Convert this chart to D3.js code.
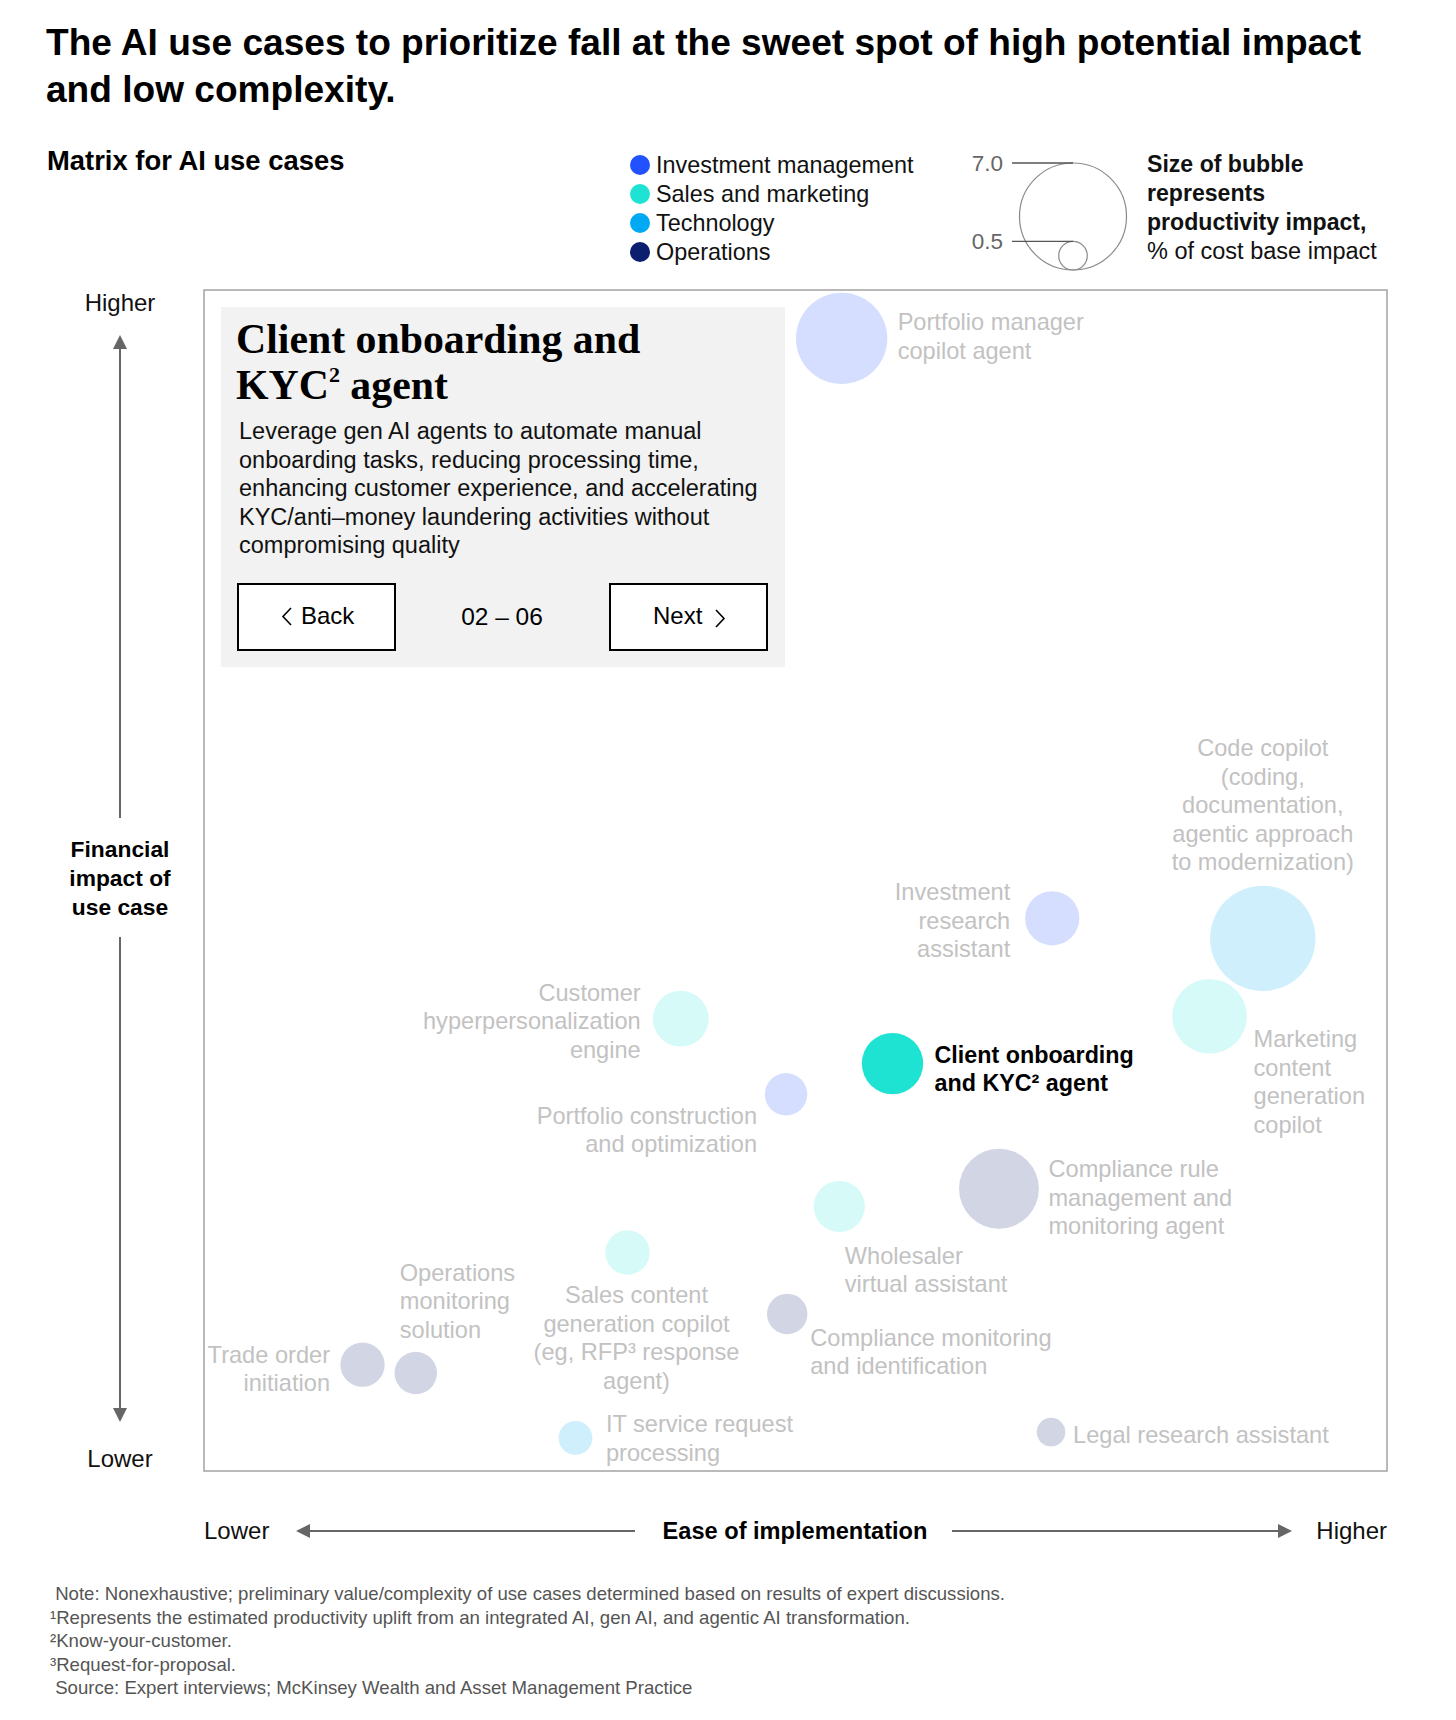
<!DOCTYPE html>
<html>
<head>
<meta charset="utf-8">
<script src="https://cdn.jsdelivr.net/npm/d3@7"></script>
<style>
  html, body { margin: 0; padding: 0; background: #fff; }
  svg { display: block; font-family: "Liberation Sans", Arial, sans-serif; }
</style>
</head>
<body>
<svg id="chart" width="1456" height="1720"></svg>
<script>
// ---------- DATA ----------
const categories = ["Investment management", "Sales and marketing", "Technology", "Operations"];
const categoryColors = ["#2251FF", "#1EE3D3", "#00A9F4", "#0B1F6E"];

const useCases = [
  "Portfolio manager copilot agent",
  "Investment research assistant",
  "Code copilot",
  "Marketing content generation copilot",
  "Customer hyperpersonalization engine",
  "Client onboarding and KYC² agent",
  "Portfolio construction and optimization",
  "Compliance rule management and monitoring agent",
  "Wholesaler virtual assistant",
  "Sales content generation copilot",
  "Compliance monitoring and identification",
  "Trade order initiation",
  "Operations monitoring solution",
  "IT service request processing",
  "Legal research assistant"
];
const useCaseCategory = [0, 0, 2, 1, 1, 1, 0, 3, 1, 1, 3, 3, 3, 2, 3];
// Ease of implementation (0 = lower, 100 = higher)
const ease = [53.9, 71.7, 89.5, 85.0, 40.3, 58.2, 49.2, 67.2, 53.7, 35.8, 49.3, 13.4, 17.9, 31.4, 71.6];
// Financial impact of use case (0 = lower, 100 = higher)
const impact = [95.9, 46.8, 45.1, 38.5, 38.3, 34.5, 31.9, 23.9, 22.4, 18.5, 13.3, 9.0, 8.3, 2.8, 3.3];
// Productivity impact, % of cost base impact (bubble size)
const productivity = [5.1, 1.8, 6.8, 3.4, 1.9, 2.3, 1.1, 3.9, 1.6, 1.2, 1.0, 1.2, 1.1, 0.7, 0.5];
const highlighted = 5;

const labelLines = [
  ["Portfolio manager", "copilot agent"],
  ["Investment", "research", "assistant"],
  ["Code copilot", "(coding,", "documentation,", "agentic approach", "to modernization)"],
  ["Marketing", "content", "generation", "copilot"],
  ["Customer", "hyperpersonalization", "engine"],
  ["Client onboarding", "and KYC² agent"],
  ["Portfolio construction", "and optimization"],
  ["Compliance rule", "management and", "monitoring agent"],
  ["Wholesaler", "virtual assistant"],
  ["Sales content", "generation copilot", "(eg, RFP³ response", "agent)"],
  ["Compliance monitoring", "and identification"],
  ["Trade order", "initiation"],
  ["Operations", "monitoring", "solution"],
  ["IT service request", "processing"],
  ["Legal research assistant"]
];

const sizeLegendValues = [7.0, 0.5];
const sizeLegendLabels = ["7.0", "0.5"];

const detailTitle = ["Client onboarding and", "KYC", "agent"];
const detailBody = [
  "Leverage gen AI agents to automate manual",
  "onboarding tasks, reducing processing time,",
  "enhancing customer experience, and accelerating",
  "KYC/anti–money laundering activities without",
  "compromising quality"
];
const pager = "02 – 06";

const titleLines = [
  "The AI use cases to prioritize fall at the sweet spot of high potential impact",
  "and low complexity."
];
const subtitle = "Matrix for AI use cases";
const sizeLegendText = ["Size of bubble", "represents", "productivity impact,", "% of cost base impact"];
const footnotes = [
  " Note: Nonexhaustive; preliminary value/complexity of use cases determined based on results of expert discussions.",
  "¹Represents the estimated productivity uplift from an integrated AI, gen AI, and agentic AI transformation.",
  "²Know-your-customer.",
  "³Request-for-proposal.",
  " Source: Expert interviews; McKinsey Wealth and Asset Management Practice"
];

// ---------- LAYOUT (label placement relative to bubble centre) ----------
const labelLayout = [
  {anchor: "start", dx: 56, dy: -8},
  {anchor: "end", dx: -42, dy: -18},
  {anchor: "middle", dx: 0, dy: -182},
  {anchor: "start", dx: 44, dy: 31},
  {anchor: "end", dx: -40, dy: -18},
  {anchor: "start", dx: 42, dy: -1},
  {anchor: "end", dx: -29, dy: 29.5},
  {anchor: "start", dx: 49.5, dy: -11.5},
  {anchor: "start", dx: 5.5, dy: 57.5},
  {anchor: "middle", dx: 9, dy: 50.5},
  {anchor: "start", dx: 23, dy: 32},
  {anchor: "end", dx: -32.5, dy: -2},
  {anchor: "start", dx: -16, dy: -92},
  {anchor: "start", dx: 30.5, dy: -5.5},
  {anchor: "start", dx: 22, dy: 10.5}
];

// ---------- DRAW ----------
const svg = d3.select("#chart");
const plot = {left: 204, right: 1387, top: 290, bottom: 1471};

const x = d3.scaleLinear().domain([0, 100]).range([plot.left, plot.right]);
const y = d3.scaleLinear().domain([0, 100]).range([plot.bottom, plot.top]);
const r = d3.scaleSqrt().domain([0, 7]).range([0, 53.5]);
const color = d3.scaleOrdinal().domain(categories).range(categoryColors);

// Title
svg.append("g").selectAll("text").data(titleLines).join("text")
  .attr("x", 46).attr("y", (d, i) => 55 + i * 46.5)
  .attr("font-size", 37.1).attr("font-weight", "bold").attr("fill", "#000")
  .text(d => d);

svg.append("text").attr("x", 47).attr("y", 170)
  .attr("font-size", 27.4).attr("font-weight", "bold").attr("fill", "#000")
  .text(subtitle);

// Category legend
const leg = svg.append("g");
categories.forEach((c, i) => {
  leg.append("circle").attr("cx", 640).attr("cy", 165 + i * 29).attr("r", 10).attr("fill", color(c));
  leg.append("text").attr("x", 656).attr("y", 173 + i * 29)
    .attr("font-size", 23.4).attr("fill", "#111").text(c);
});

// Size legend
const sl = svg.append("g");
const slCx = 1073, slBottom = 270;
sizeLegendValues.forEach((v, i) => {
  const rr = r(v);
  sl.append("circle").attr("cx", slCx).attr("cy", slBottom - rr).attr("r", rr)
    .attr("fill", "none").attr("stroke", "#8a8a8a").attr("stroke-width", 1.2);
  sl.append("line").attr("x1", 1012).attr("x2", slCx).attr("y1", slBottom - 2 * rr).attr("y2", slBottom - 2 * rr)
    .attr("stroke", "#555").attr("stroke-width", 1.3);
  sl.append("text").attr("x", 1003).attr("y", slBottom - 2 * rr + 8)
    .attr("text-anchor", "end").attr("font-size", 22.5).attr("fill", "#666").text(sizeLegendLabels[i]);
});
sizeLegendText.forEach((t, i) => {
  sl.append("text").attr("x", 1147).attr("y", 172 + i * 29)
    .attr("font-size", i < 3 ? 23.1 : 23.5).attr("font-weight", i < 3 ? "bold" : "normal").attr("fill", "#111").text(t);
});

// Frame
svg.append("rect").attr("x", plot.left).attr("y", plot.top)
  .attr("width", plot.right - plot.left).attr("height", plot.bottom - plot.top)
  .attr("fill", "none").attr("stroke", "#a3a3a3").attr("stroke-width", 1.5);

// Detail card
const card = svg.append("g");
card.append("rect").attr("x", 221).attr("y", 307).attr("width", 564).attr("height", 360).attr("fill", "#F2F2F2");
const ct = card.append("g").attr("font-family", "'Liberation Serif', 'DejaVu Serif', serif").attr("font-weight", "bold").attr("fill", "#000");
ct.append("text").attr("x", 236).attr("y", 353).attr("font-size", 41.8).text(detailTitle[0]);
const t2 = ct.append("text").attr("x", 236).attr("y", 399).attr("font-size", 41.8);
t2.append("tspan").text(detailTitle[1]);
t2.append("tspan").attr("font-size", 22).attr("dy", -17).text("2");
t2.append("tspan").attr("dy", 17).text(" " + detailTitle[2]);
card.append("g").selectAll("text").data(detailBody).join("text")
  .attr("x", 239).attr("y", (d, i) => 439 + i * 28.5)
  .attr("font-size", 23.5).attr("fill", "#111").text(d => d);

// Buttons
[[238, "Back"], [610, "Next"]].forEach(([bx, label], i) => {
  card.append("rect").attr("x", bx).attr("y", 584).attr("width", 157).attr("height", 66)
    .attr("fill", "#fff").attr("stroke", "#000").attr("stroke-width", 2);
  if (i === 0) {
    card.append("path").attr("d", "M291,608 L283,616.5 L291,625").attr("fill", "none").attr("stroke", "#000").attr("stroke-width", 1.6);
    card.append("text").attr("x", 301).attr("y", 624).attr("font-size", 24).attr("fill", "#000").text(label);
  } else {
    card.append("text").attr("x", 653).attr("y", 624).attr("font-size", 24).attr("fill", "#000").text(label);
    card.append("path").attr("d", "M716,610 L724,618.5 L716,627").attr("fill", "none").attr("stroke", "#000").attr("stroke-width", 1.6);
  }
});
card.append("text").attr("x", 502).attr("y", 625).attr("text-anchor", "middle")
  .attr("font-size", 24.5).attr("fill", "#000").text(pager);

// Bubbles
const data = useCases.map((name, i) => ({
  name, cat: categories[useCaseCategory[i]], ease: ease[i], impact: impact[i],
  value: productivity[i], lines: labelLines[i], lay: labelLayout[i], hi: i === highlighted
}));

const bubbles = svg.append("g");
bubbles.selectAll("circle").data(data).join("circle")
  .attr("cx", d => x(d.ease)).attr("cy", d => y(d.impact)).attr("r", d => r(d.value))
  .attr("fill", d => color(d.cat)).attr("fill-opacity", d => d.hi ? 1 : 0.19);

const labels = svg.append("g");
data.forEach(d => {
  const t = labels.append("text")
    .attr("x", x(d.ease) + d.lay.dx).attr("y", y(d.impact) + d.lay.dy)
    .attr("text-anchor", d.lay.anchor)
    .attr("font-size", d.hi ? 23.3 : 23.6)
    .attr("font-weight", d.hi ? "bold" : "normal")
    .attr("fill", d.hi ? "#000" : "#c2c2c2");
  d.lines.forEach((ln, j) => {
    t.append("tspan").attr("x", x(d.ease) + d.lay.dx).attr("dy", j === 0 ? 0 : 28.5).text(ln);
  });
});

// Axis arrows
const axisColor = "#666";
const ax = svg.append("g");
function arrowHead(g, tipX, tipY, dir) {
  const s = 14, w = 7;
  let p;
  if (dir === "up") p = [[tipX, tipY], [tipX - w, tipY + s], [tipX + w, tipY + s]];
  if (dir === "down") p = [[tipX, tipY], [tipX - w, tipY - s], [tipX + w, tipY - s]];
  if (dir === "left") p = [[tipX, tipY], [tipX + s, tipY - w], [tipX + s, tipY + w]];
  if (dir === "right") p = [[tipX, tipY], [tipX - s, tipY - w], [tipX - s, tipY + w]];
  g.append("path").attr("d", d3.line()(p) + "Z").attr("fill", axisColor);
}
// Y
ax.append("line").attr("x1", 120).attr("x2", 120).attr("y1", 345).attr("y2", 818).attr("stroke", axisColor).attr("stroke-width", 2);
arrowHead(ax, 120, 335, "up");
ax.append("line").attr("x1", 120).attr("x2", 120).attr("y1", 937).attr("y2", 1412).attr("stroke", axisColor).attr("stroke-width", 2);
arrowHead(ax, 120, 1422, "down");
ax.append("text").attr("x", 120).attr("y", 311).attr("text-anchor", "middle").attr("font-size", 24).attr("fill", "#111").text("Higher");
ax.append("text").attr("x", 120).attr("y", 1467).attr("text-anchor", "middle").attr("font-size", 24).attr("fill", "#111").text("Lower");
["Financial", "impact of", "use case"].forEach((t, i) => {
  ax.append("text").attr("x", 120).attr("y", 857 + i * 29).attr("text-anchor", "middle")
    .attr("font-size", 22.8).attr("font-weight", "bold").attr("fill", "#000").text(t);
});
// X
ax.append("line").attr("x1", 306).attr("x2", 635).attr("y1", 1531).attr("y2", 1531).attr("stroke", axisColor).attr("stroke-width", 2);
arrowHead(ax, 296, 1531, "left");
ax.append("line").attr("x1", 952).attr("x2", 1282).attr("y1", 1531).attr("y2", 1531).attr("stroke", axisColor).attr("stroke-width", 2);
arrowHead(ax, 1292, 1531, "right");
ax.append("text").attr("x", 204).attr("y", 1539).attr("font-size", 24).attr("fill", "#111").text("Lower");
ax.append("text").attr("x", 1387).attr("y", 1539).attr("text-anchor", "end").attr("font-size", 24).attr("fill", "#111").text("Higher");
ax.append("text").attr("x", 795).attr("y", 1539).attr("text-anchor", "middle")
  .attr("font-size", 23.6).attr("font-weight", "bold").attr("fill", "#000").text("Ease of implementation");

// Footnotes
svg.append("g").selectAll("text").data(footnotes).join("text")
  .attr("x", 50).attr("y", (d, i) => 1600 + i * 23.5)
  .attr("font-size", 18.6).attr("fill", "#555").attr("xml:space", "preserve")
  .style("white-space", "pre")
  .text(d => d);
</script>
</body>
</html>
